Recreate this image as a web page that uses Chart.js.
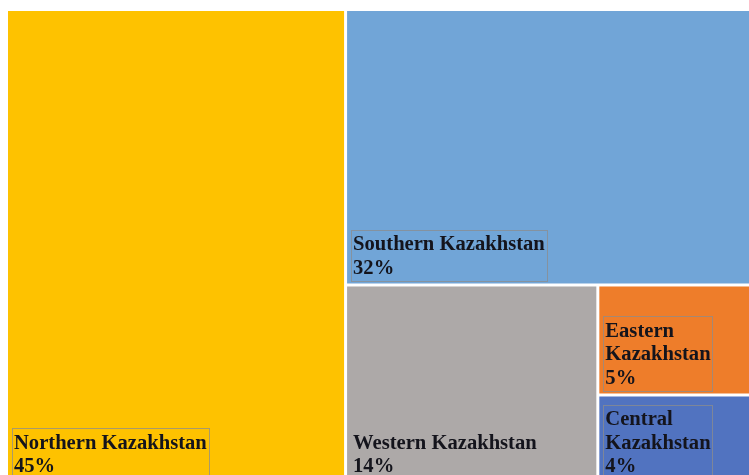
<!DOCTYPE html>
<html>
<head>
<meta charset="utf-8">
<script src="https://cdn.jsdelivr.net/npm/chart.js@4.4.1/dist/chart.umd.min.js"></script>
<style>
  html, body { margin: 0; padding: 0; background: #fff; overflow: hidden; }
  #wrap { width: 760px; height: 483px; position: relative; }
</style>
</head>
<body>
<div id="wrap"><canvas id="treemap"></canvas></div>
<script>
// region shares, in percent
var regions = ['Northern Kazakhstan', 'Southern Kazakhstan', 'Western Kazakhstan', 'Eastern Kazakhstan', 'Central Kazakhstan'];
var shares = [45, 32, 14, 5, 4];

var colors = ['#FEC200', '#71A5D7', '#ADA9A8', '#EE7D2A', '#5173C0'];
var boxed = [true, true, false, true, true];

function sum(arr) { return arr.reduce(function (a, b) { return a + b; }, 0); }

// squarified layout, w/h in real proportions
function squarify(vals, w, h) {
    var out = [];
    var x = 0, y = 0;
    var scale = w * h / sum(vals);
    var worst = function (row, side) {
        var s = sum(row) * scale;
        var mx = Math.max.apply(null, row) * scale, mn = Math.min.apply(null, row) * scale;
        return Math.max(side * side * mx / (s * s), (s * s) / (side * side * mn));
    };
    var i = 0;
    while (i < vals.length) {
        var side = Math.min(w, h);
        var row = [vals[i]], j = i + 1;
        while (j < vals.length && worst(row.concat([vals[j]]), side) <= worst(row, side)) {
            row.push(vals[j]);
            j++;
        }
        var thick = sum(row) * scale / side;
        var off = 0;
        row.forEach(function (v) {
            var len = v * scale / thick;
            if (w >= h) out.push({ x: x, y: y + off, w: thick, h: len });
            else out.push({ x: x + off, y: y, w: len, h: thick });
            off += len;
        });
        if (w >= h) { x += thick; w -= thick; } else { y += thick; h -= thick; }
        i = j;
    }
    return out;
}

var treemapPlugin = {
    id: 'treemap',
    afterDatasetsDraw: function (chart) {
        var ctx = chart.ctx;
        var xs = chart.scales.x, ys = chart.scales.y;
        var area = chart.chartArea;
        var aspect = (area.right - area.left) / (area.bottom - area.top);
        var cells = squarify(shares, aspect, 1);
        var gap = 1.5;
        var font = 'bold 20.6px "Liberation Serif", "Times New Roman", serif';
        var lh = 23.5;

        ctx.save();
        cells.forEach(function (c, k) {
            var l = xs.getPixelForValue(c.x / aspect) + gap;
            var r = xs.getPixelForValue((c.x + c.w) / aspect) - gap;
            var t = ys.getPixelForValue(c.y) + gap;
            var b = ys.getPixelForValue(c.y + c.h) - gap;
            ctx.fillStyle = colors[k];
            ctx.fillRect(l, t, r - l, b - t);

            // label: name (wrapped) + percent, anchored bottom-left
            ctx.font = font;
            var lines = [];
            var maxW = r - l - 10;
            if (ctx.measureText(regions[k]).width <= maxW) lines.push(regions[k]);
            else lines = regions[k].split(' ');
            lines.push(shares[k] + '%');
            var tw = Math.max.apply(null, lines.map(function (s) { return ctx.measureText(s).width; }));
            var bx = l + 4, bw = tw + 4;
            var bh = lines.length * lh + 4;
            var by = b - 2.5 - bh;
            if (boxed[k]) {
                ctx.strokeStyle = 'rgba(140,140,140,0.75)';
                ctx.lineWidth = 1;
                ctx.strokeRect(Math.round(bx) + 0.5, Math.round(by) + 0.5, Math.round(bw), Math.round(bh));
            }
            ctx.fillStyle = '#14141c';
            ctx.textBaseline = 'alphabetic';
            ctx.textAlign = 'left';
            lines.forEach(function (s, n) {
                ctx.fillText(s, bx + 2, by + 20.5 + n * lh);
            });
        });
        ctx.restore();
    }
};

var ctx = document.getElementById('treemap').getContext('2d');
new Chart(ctx, {
    type: 'scatter',
    data: {
        datasets: [{ label: 'Share', data: [] }]
    },
    options: {
        responsive: true,
        maintainAspectRatio: false,
        animation: false,
        layout: { padding: { left: 6.5, top: 9.5, right: 0, bottom: 0 } },
        plugins: {
            legend: { display: false },
            tooltip: { enabled: false }
        },
        scales: {
            x: { type: 'linear', min: 0, max: 1, display: false },
            y: { type: 'linear', min: 0, max: 1, reverse: true, display: false }
        }
    },
    plugins: [treemapPlugin]
});
</script>
</body>
</html>
